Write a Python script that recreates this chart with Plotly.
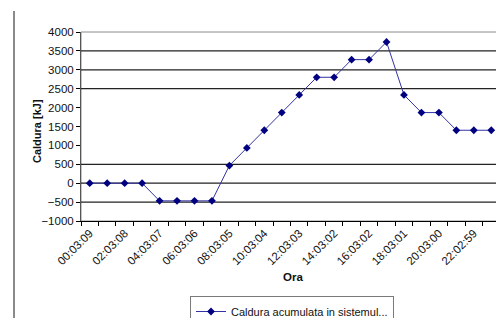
import plotly.graph_objects as go

# Data
times = ["00:03:09", "01:03:08", "02:03:08", "03:03:07", "04:03:07", "05:03:06",
         "06:03:06", "07:03:05", "08:03:05", "09:03:04", "10:03:04", "11:03:03",
         "12:03:03", "13:03:02", "14:03:02", "15:03:02", "16:03:02", "17:03:01",
         "18:03:01", "19:03:00", "20:03:00", "21:02:59", "22:02:59", "23:02:58"]
heat = [0, 0, 0, 0, -467, -467, -467, -467, 467, 934, 1401, 1868,
        2335, 2802, 2802, 3269, 3269, 3736, 2335, 1868, 1868, 1401, 1401, 1401]
series_name = "Caldura acumulata in sistemul..."
grid_levels = [3500, 3000, 2500, 500, 0, -500]
y_title = "Caldura [kJ]"
x_title = "Ora"

idx = list(range(len(times)))
label_idx = idx[::2]
label_text = [times[i] for i in label_idx]

font = "Liberation Sans, Arial, sans-serif"
W, H = 496, 310          # page body has an 8px margin
OFF = 8
L, R, T, B = 81 - OFF, 4, 32 - OFF, 97
PW, PH = W - L - R, H - T - B

def px_x(x):  # window pixel -> paper fraction
    return (x - OFF - L) / PW

def px_y(y):
    return (H - B - (y - OFF)) / PH

fig = go.Figure()
fig.add_trace(go.Scatter(
    x=idx, y=heat, mode="lines+markers", name=series_name,
    line=dict(color="#3333a6", width=1),
    marker=dict(symbol="diamond", size=6, color="#000080"),
))

shapes = []
shapes.append(dict(type="rect", xref="paper", yref="paper", x0=0, x1=1, y0=0, y1=1,
                   line=dict(color="#8c8c8c", width=1), layer="below"))
for g in grid_levels:
    shapes.append(dict(type="line", xref="paper", yref="y", x0=0, x1=1, y0=g, y1=g,
                       line=dict(color="#222222", width=1.2), layer="below"))
shapes.append(dict(type="line", xref="paper", yref="paper",
                   x0=px_x(14), x1=px_x(14), y0=px_y(11), y1=px_y(330),
                   line=dict(color="#8a8a8a", width=2)))

fig.update_layout(
    template="none",
    width=W, height=H,
    margin=dict(l=L, r=R, t=T, b=B, autoexpand=False),
    paper_bgcolor="white", plot_bgcolor="white",
    font=dict(family=font, size=11, color="#111111"),
    showlegend=True,
    legend=dict(x=px_x(190), y=px_y(296), xanchor="left", yanchor="top",
                orientation="h", bordercolor="#7a7a7a", borderwidth=1, bgcolor="white",
                font=dict(size=11), itemwidth=30),
    shapes=shapes,
    annotations=[
        dict(text="<b>" + x_title + "</b>", xref="paper", yref="paper",
             x=px_x(293), y=px_y(277), showarrow=False,
             xanchor="center", yanchor="middle", font=dict(size=11.5)),
        dict(text="<b>" + y_title + "</b>", xref="paper", yref="paper",
             x=px_x(37), y=px_y(131), showarrow=False, textangle=-90,
             xanchor="center", yanchor="middle", font=dict(size=11)),
    ],
)
fig.update_xaxes(
    automargin=False,
    range=[-0.5, len(times) - 0.5], tickmode="array", tickvals=label_idx, ticktext=label_text,
    tickangle=-45, ticks="", showgrid=False, zeroline=False,
    showline=True, linecolor="#000000", linewidth=1,
    minor=dict(ticks="outside", tick0=-0.5, dtick=1, ticklen=4, tickcolor="#000000", showgrid=False),
    tickfont=dict(size=11.5),
)
fig.update_yaxes(
    automargin=False,
    range=[-1000, 4000], dtick=500, tick0=0, showgrid=False, zeroline=False,
    ticks="outside", ticklen=4, tickcolor="#000000",
    showline=True, linecolor="#555555", linewidth=1,
    tickfont=dict(size=11.5),
)

fig.write_html("out.html")
